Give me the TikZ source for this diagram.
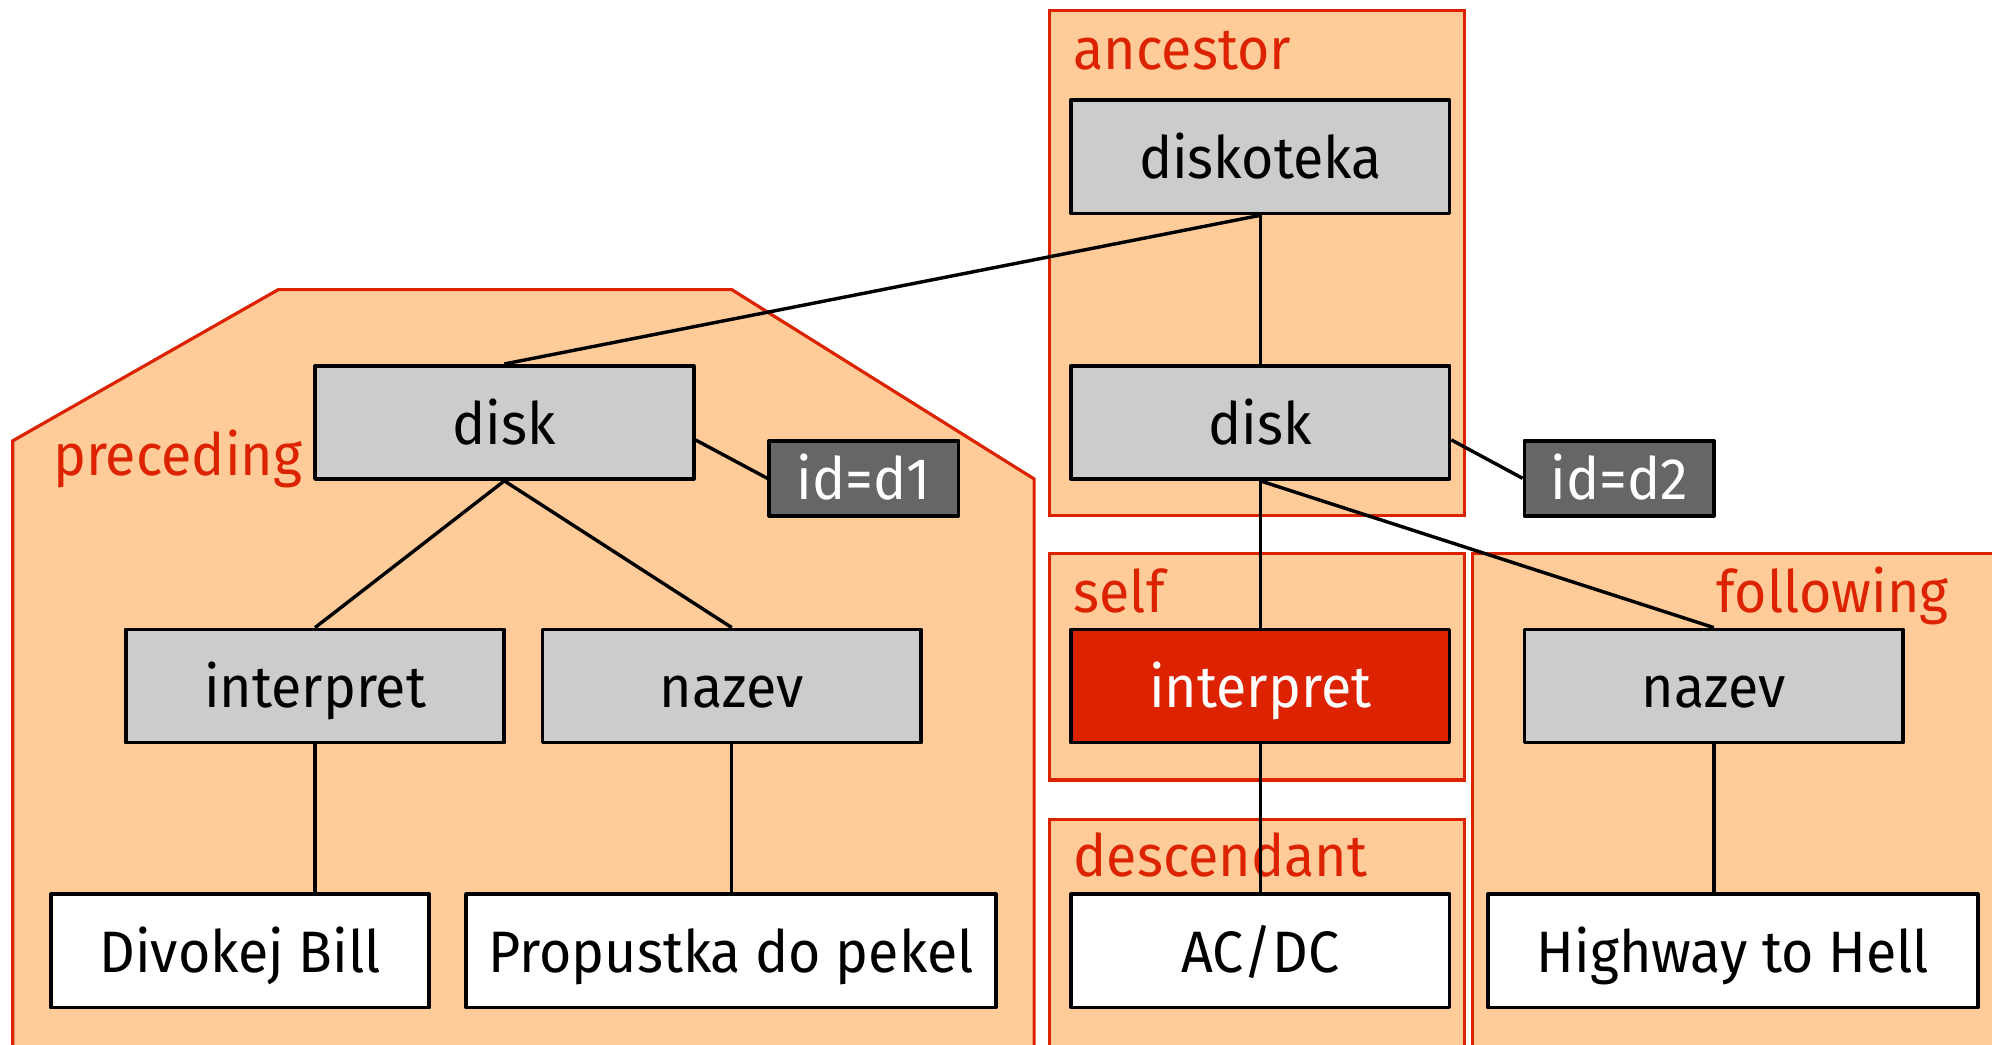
\documentclass[tikz,border=0pt]{standalone}
\usepackage{fontspec}
\setmainfont[FakeStretch=0.95]{Fira Sans}
\usetikzlibrary{calc}
\definecolor{regfill}{RGB}{255,204,153}
\definecolor{regred}{RGB}{221,34,0}
\definecolor{boxgray}{RGB}{204,204,204}
\definecolor{iddark}{RGB}{102,102,102}
\tikzset{
  every node/.style={font=\fontsize{46}{55}\selectfont},
  elem/.style={draw=black, line width=3pt, line join=round, fill=boxgray, minimum width=298pt, minimum height=89pt, inner sep=0pt, text height=34pt, text depth=0pt},
  txtbox/.style={elem, fill=white},
  selfbox/.style={elem, fill=regred, text=white},
  attrbox/.style={draw=black, line width=3pt, line join=round, fill=iddark, text=white, minimum width=149pt, minimum height=59pt, inner sep=0pt, text height=34pt, text depth=0pt},
  region/.style={draw=regred, fill=regfill, line width=2.5pt},
  reglabel/.style={text=regred, inner sep=0pt},
  conn/.style={draw=black, line width=2.7pt}
}
\begin{document}
\begin{tikzpicture}[x=1pt,y=1pt]
\useasboundingbox (0,0) rectangle (1568,-822);
\clip (0,0) rectangle (1568,-822);
% regions
\path[region] (10,-850) -- (10,-347) -- (219,-228) -- (576,-228) -- (814,-377) -- (814,-850) -- cycle;
\path[region] (826,-8) rectangle (1153,-406);
\path[region] (826,-436) rectangle (1153,-614);
\path[region] (826,-645) rectangle (1153,-850);
\path[region] (1159,-436) rectangle (1600,-850);
\node[reglabel, anchor=base west] (lanc) at (845,-55) {ancestor};
\node[reglabel, anchor=base east] (lpre) at (238,-374) {preceding};
\node[reglabel, anchor=base west] (lself) at (845,-482) {self};
\node[reglabel, anchor=base east] (lfol) at (1534,-482) {following};
\node[reglabel, anchor=base west] (ldes) at (845,-690) {descendant};
% nodes
\node[elem] (dk) at (992,-123.5) {diskoteka};
\node[elem] (diskR) at (992,-332.5) {disk};
\node[attrbox] (idR) at (1274.5,-376.5) {id=d2};
\node[selfbox] (intR) at (992,-540) {interpret};
\node[txtbox] (acdc) at (992,-748.5) {AC/DC};
\node[elem] (nazR) at (1349,-540) {nazev};
\node[txtbox, minimum width=386pt] (hw) at (1364,-748.5) {Highway to Hell};
\node[elem] (diskL) at (397,-332.5) {disk};
\node[attrbox] (idL) at (680,-376.5) {id=d1};
\node[elem] (intL) at (248,-540) {interpret};
\node[elem] (nazL) at (576,-540) {nazev};
\node[txtbox] (db) at (189,-748.5) {Divokej Bill};
\node[txtbox, minimum width=417pt] (pp) at (575.5,-748.5) {Propustka do pekel};
% connectors
\path[conn] (dk.south) -- (diskL.north);
\path[conn] (dk.south) -- (diskR.north);
\path[conn] (diskR.south) -- (intR.north);
\path[conn] (diskR.south) -- (nazR.north);
\path[conn] (intR.south) -- (intR.south |- acdc.north);
\path[conn] (nazR.south) -- (nazR.south |- hw.north);
\path[conn] (diskL.south) -- (intL.north);
\path[conn] (diskL.south) -- (nazL.north);
\path[conn] (intL.south) -- (intL.south |- db.north);
\path[conn] (nazL.south) -- (nazL.south |- pp.north);
\path[conn] ($(diskL.north east)!0.65!(diskL.south east)$) -- (idL.west);
\path[conn] ($(diskR.north east)!0.65!(diskR.south east)$) -- (idR.west);
\end{tikzpicture}
\end{document}
